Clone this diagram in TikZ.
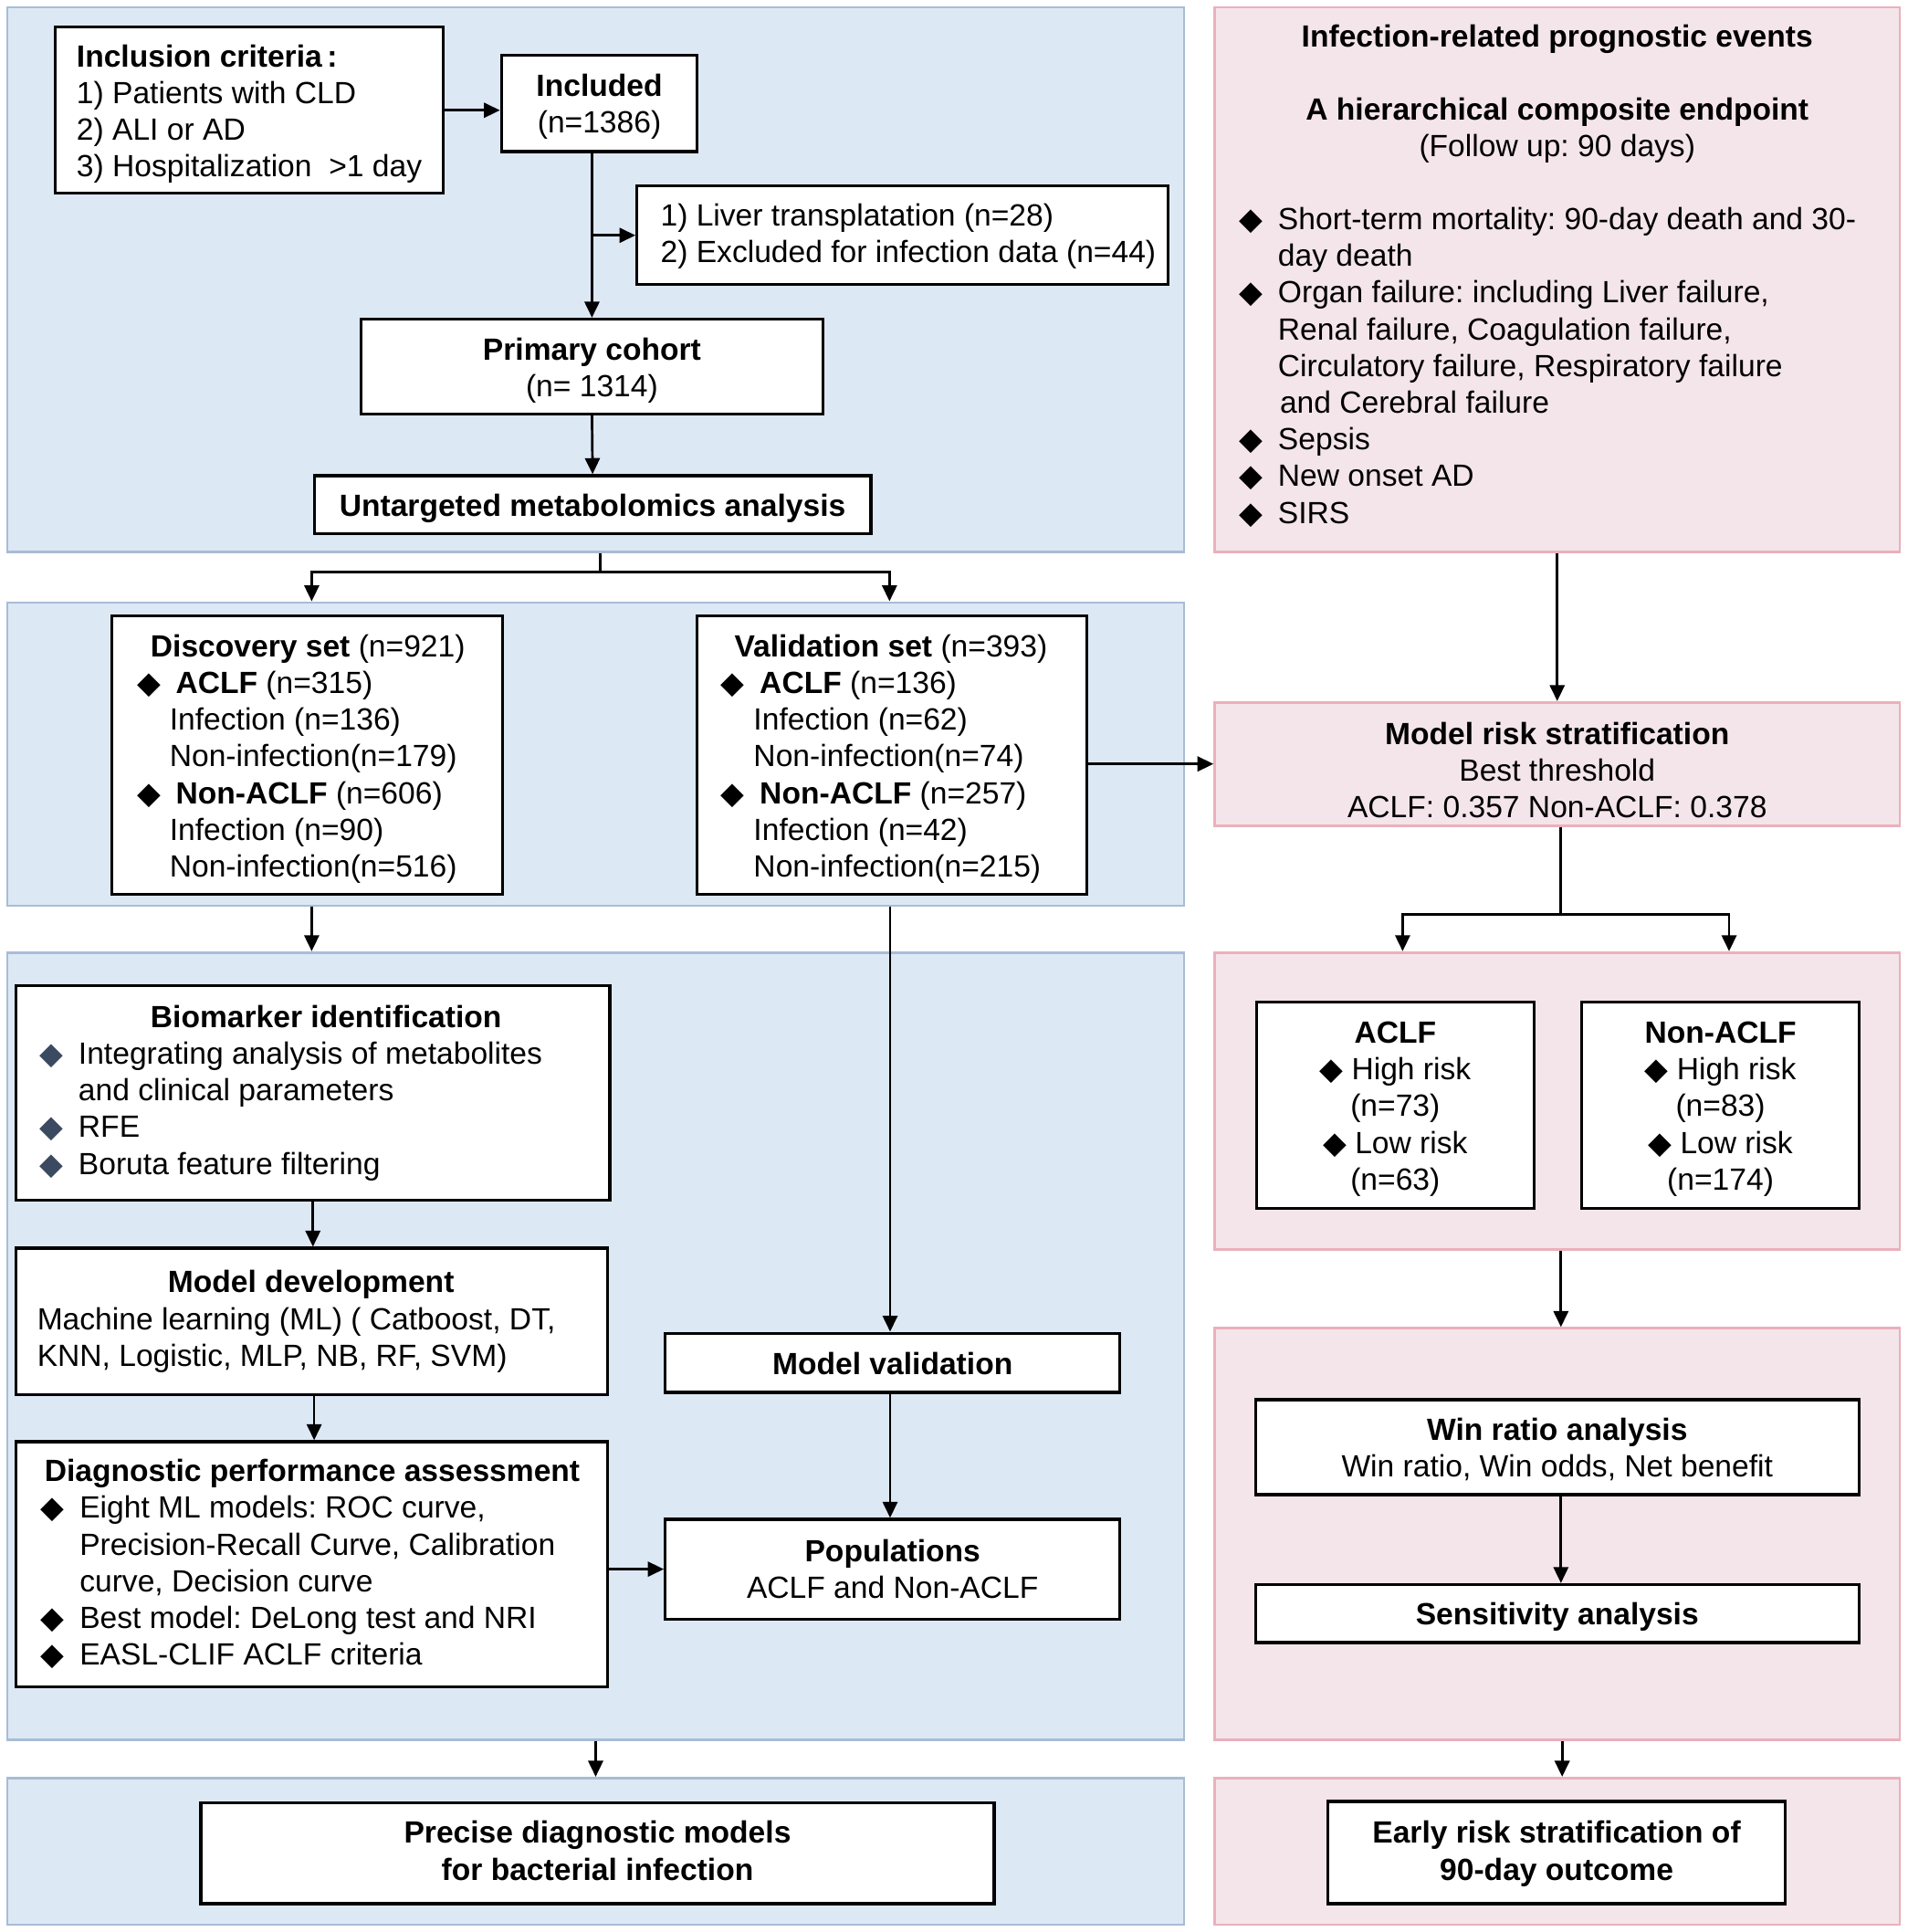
\documentclass[tikz,border=0pt]{standalone}
\usepackage{fontspec}
\setmainfont{Liberation Sans}
\newfontfamily\dejavu{DejaVu Sans}
\usetikzlibrary{arrows.meta,calc}
\definecolor{bfill}{HTML}{DDE8F5}
\definecolor{bborder}{HTML}{A8BCD5}
\definecolor{pfill}{HTML}{F4E5EA}
\definecolor{pborder}{HTML}{EBB0BC}
\definecolor{dmgrey}{HTML}{3B4A60}
\newcommand{\fs}{\fontsize{12.45pt}{14.9pt}\selectfont\frenchspacing}
\newcommand{\dm}{\makebox[15.75pt][l]{\dejavu ◆}}
\newcommand{\dmg}{\makebox[15.75pt][l]{\color{dmgrey}\dejavu ◆}}
\newcommand{\cdm}{{\dejavu ◆}\ }
\begin{document}
\begin{tikzpicture}[x=0.5pt,y=-0.5pt,
  every node/.style={font=\fs},
  bpanel/.style={draw=bborder, fill=bfill, line width=1pt, inner sep=0},
  ppanel/.style={draw=pborder, fill=pfill, line width=1pt, inner sep=0},
  box/.style={draw=black, fill=white, line width=1.2pt, inner sep=0},
  txt/.style={inner sep=0, align=left, anchor=west},
  ctxt/.style={inner sep=0, align=center},
  conn/.style={line width=1pt},
  arr/.style={line width=1pt, -{Triangle[length=6.5pt,width=6pt]}}]
\useasboundingbox (0,0) rectangle (1548,1568);
\fill[white] (0,0) rectangle (1548,1568);

% panels
\node[bpanel, minimum width=477.5pt, minimum height=221pt] (b1) at (483.5,227) {};
\node[ppanel, minimum width=278pt, minimum height=221pt] (p1) at (1264,227) {};
\node[bpanel, minimum width=477.5pt, minimum height=123pt] (b2) at (483.5,612) {};
\node[ppanel, minimum width=278pt, minimum height=50pt] (mrisk) at (1264,620) {};
\node[bpanel, minimum width=477.5pt, minimum height=319.5pt] (b3) at (483.5,1092.5) {};
\node[ppanel, minimum width=278pt, minimum height=120.5pt] (p3) at (1264,893.5) {};
\node[ppanel, minimum width=278pt, minimum height=167pt] (p4) at (1264,1245) {};
\node[bpanel, minimum width=477.5pt, minimum height=59.5pt] (b4) at (483.5,1502.5) {};
\node[ppanel, minimum width=278pt, minimum height=59.5pt] (p5) at (1264,1502.5) {};

% top-left panel
\node[box, minimum width=157.5pt, minimum height=67.5pt] (incl) at (202.5,89.5) {};
\node[txt] (incl-t) at ([xshift=9pt,yshift=-1.5pt]incl.west) {\textbf{Inclusion criteria\,:}\\1) Patients with CLD\\2) ALI or AD\\3) Hospitalization\ \ >1 day};
\node[box, minimum width=79.5pt, minimum height=39pt] (included) at (486.5,84) {};
\node[ctxt] (included-t) at ([yshift=-1.25pt]included.center) {\textbf{Included}\\(n=1386)};
\node[box, minimum width=215.5pt, minimum height=40pt] (excl) at (732.5,191) {};
\node[txt] (excl-t) at ([xshift=10pt,yshift=-0.5pt]excl.west) {1) Liver transplatation (n=28)\\2) Excluded for infection data (n=44)};
\node[box, minimum width=187.5pt, minimum height=38.5pt] (primary) at (480.5,297.5) {};
\node[ctxt] (primary-t) at ([yshift=-1.5pt]primary.center) {\textbf{Primary cohort}\\(n= 1314)};
\node[box, minimum width=226pt, minimum height=23.5pt] (untarg) at (481,409.5) {};
\node[ctxt] (untarg-t) at ([yshift=-1.5pt]untarg.center) {\textbf{Untargeted metabolomics analysis}};

% top-right panel text
\node[ctxt] (p1-t1) at ([yshift=-13.5pt]p1.north) {\textbf{Infection-related prognostic events}};
\node[ctxt] (p1-t2) at ([yshift=-50.5pt]p1.north) {\textbf{A hierarchical composite endpoint}\\(Follow up: 90 days)};
\node[txt] (p1-t3) at ([xshift=10.25pt,yshift=-35.5pt]p1.west) {\dm Short-term mortality: 90-day death and 30-\\
\hspace*{15.75pt}day death\\
\dm Organ failure: including Liver failure,\\
\hspace*{15.75pt}Renal failure, Coagulation failure,\\
\hspace*{15.75pt}Circulatory failure, Respiratory failure\\
\hspace*{16.5pt}and Cerebral failure\\
\dm Sepsis\\
\dm New onset AD\\
\dm SIRS};

% second row
\node[box, minimum width=158.5pt, minimum height=113pt] (disc) at (249.5,613) {};
\node[txt] (disc-t) at ([xshift=10.5pt,yshift=-1.5pt]disc.west) {\hspace*{5.5pt}\textbf{Discovery set} (n=921)\\
\dm\textbf{ACLF} (n=315)\\
\hspace*{13.25pt}Infection (n=136)\\
\hspace*{13.25pt}Non-infection(n=179)\\
\dm\textbf{Non-ACLF} (n=606)\\
\hspace*{13.25pt}Infection (n=90)\\
\hspace*{13.25pt}Non-infection(n=516)};
\node[box, minimum width=158pt, minimum height=113pt] (valid) at (724,613) {};
\node[txt] (valid-t) at ([xshift=10pt,yshift=-1.5pt]valid.west) {\hspace*{5.5pt}\textbf{Validation set} (n=393)\\
\dm\textbf{ACLF} (n=136)\\
\hspace*{13.25pt}Infection (n=62)\\
\hspace*{13.25pt}Non-infection(n=74)\\
\dm\textbf{Non-ACLF} (n=257)\\
\hspace*{13.25pt}Infection (n=42)\\
\hspace*{13.25pt}Non-infection(n=215)};
\node[ctxt] (mrisk-t) at ([yshift=-2.5pt]mrisk.center) {\textbf{Model risk stratification}\\Best threshold\\ACLF: 0.357 Non-ACLF: 0.378};

% third row left
\node[box, minimum width=241pt, minimum height=87pt] (bio) at (254,887) {};
\node[txt] (bio-t) at ([xshift=10pt]bio.west) {\hspace*{45pt}\textbf{Biomarker identification}\\
\dmg Integrating analysis of metabolites\\
\hspace*{15.75pt}and clinical parameters\\
\dmg RFE\\
\dmg Boruta feature filtering};
\node[box, minimum width=240pt, minimum height=59.5pt] (dev) at (253,1072.5) {};
\node[txt] (dev-t) at ([xshift=9pt]dev.west) {\hspace*{53pt}\textbf{Model development}\\
Machine learning (ML) ( Catboost, DT,\\
KNN, Logistic, MLP, NB, RF, SVM)};
\node[box, minimum width=240pt, minimum height=99.5pt] (diag) at (253,1269.5) {};
\node[txt] (diag-t) at ([xshift=10.5pt]diag.west) {\hspace*{1.5pt}\textbf{Diagnostic performance assessment}\\
\dm Eight ML models: ROC curve,\\
\hspace*{15.75pt}Precision-Recall Curve, Calibration\\
\hspace*{15.75pt}curve, Decision curve\\
\dm Best model: DeLong test and NRI\\
\dm EASL-CLIF ACLF criteria};
\node[box, minimum width=184.5pt, minimum height=24pt] (mval) at (724.5,1106) {};
\node[ctxt] (mval-t) at ([yshift=-0.5pt]mval.center) {\textbf{Model validation}};
\node[box, minimum width=184.5pt, minimum height=40.5pt] (pop) at (724.5,1273.5) {};
\node[ctxt] (pop-t) at (pop.center) {\textbf{Populations}\\ACLF and Non-ACLF};
\node[box, minimum width=322pt, minimum height=41pt] (precise) at (485,1504) {};
\node[ctxt] (precise-t) at ([yshift=1pt]precise.center) {\textbf{Precise diagnostic models}\\\textbf{for bacterial infection}};

% right column
\node[box, minimum width=112.5pt, minimum height=84pt] (aclf) at (1132.5,897) {};
\node[ctxt] (aclf-t) at ([yshift=-1.5pt]aclf.center) {\textbf{ACLF}\\\cdm High risk\\(n=73)\\\cdm Low risk\\(n=63)};
\node[box, minimum width=112.5pt, minimum height=84pt] (nacl) at (1396.5,897) {};
\node[ctxt] (nacl-t) at ([yshift=-1.5pt]nacl.center) {\textbf{Non-ACLF}\\\cdm High risk\\(n=83)\\\cdm Low risk\\(n=174)};
\node[box, minimum width=245pt, minimum height=38.5pt] (win) at (1264,1174.5) {};
\node[ctxt] (win-t) at ([yshift=-1pt]win.center) {\textbf{Win ratio analysis}\\Win ratio, Win odds, Net benefit};
\node[box, minimum width=245pt, minimum height=23.5pt] (sens) at (1264,1309.5) {};
\node[ctxt] (sens-t) at ([yshift=-1.5pt]sens.center) {\textbf{Sensitivity analysis}};
\node[box, minimum width=185.5pt, minimum height=41.5pt] (early) at (1263.5,1503.5) {};
\node[ctxt] (early-t) at ([yshift=-0.5pt]early.center) {\textbf{Early risk stratification of}\\\textbf{90-day outcome}};

% connectors
\draw[arr] (incl.east) -- (incl.east -| included.west);
\draw[arr] (primary.north |- included.south) -- (primary.north);
\draw[arr] (primary.north |- excl.west) -- (excl.west);
\draw[arr] (primary.south) -- (untarg.north);
\draw[conn] ([xshift=1.75pt]b1.south) -- ++(0,15) coordinate (split1);
\draw[arr] (split1) -| ([xshift=1.75pt]b2.north -| disc.north);
\draw[arr] (split1) -| ([xshift=-1pt]b2.north -| valid.north);
\draw[arr] ([xshift=1.75pt]b2.south -| disc.south) -- ([xshift=1.75pt]b3.north -| disc.south);
\draw[arr] ([xshift=-1pt]mval.north |- b2.south) -- ([xshift=-1pt]mval.north);
\draw[arr] (valid.east |- mrisk.west) -- (mrisk.west);
\draw[arr] (p1.south) -- (mrisk.north);
\draw[conn] ([xshift=1.5pt]mrisk.south) -- ++(0,71) coordinate (split2);
\draw[arr] (split2) -| ([xshift=3pt]p3.north -| aclf.north);
\draw[arr] (split2) -| ([xshift=3.5pt]p3.north -| nacl.north);
\draw[arr] ([xshift=1.5pt]p3.south) -- ([xshift=1.5pt]p4.north);
\draw[arr] ([xshift=1.5pt]win.south) -- ([xshift=1.5pt]sens.north);
\draw[arr] ([xshift=2pt]p4.south) -- ([xshift=2pt]p5.north);
\draw[arr] (bio.south) -- (bio.south |- dev.north);
\draw[arr] ([xshift=1pt]dev.south) -- ([xshift=1pt]dev.south |- diag.north);
\draw[arr] ([xshift=-1pt]mval.south) -- ([xshift=-1pt]pop.north);
\draw[arr] (diag.east |- pop.west) -- (pop.west);
\draw[arr] (b3.south) -- (b4.north);
\end{tikzpicture}
\end{document}
